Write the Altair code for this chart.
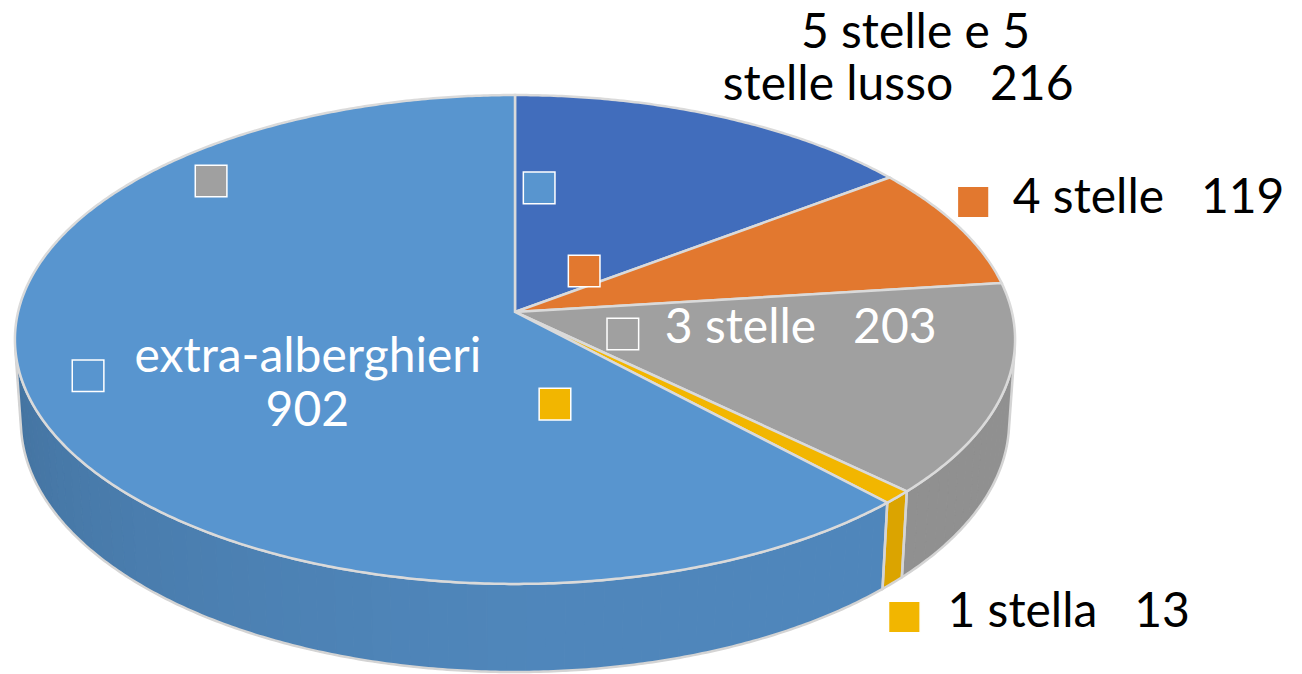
import math
import altair as alt
import pandas as pd

# ---- data ----
categories = ["5 stelle e 5 stelle lusso", "4 stelle", "3 stelle", "1 stella", "extra-alberghieri"]
values = [216, 119, 203, 13, 902]
top_colors = ["#416DBC", "#E2782F", "#A0A0A0", "#F2B600", "#5895CF"]

NB = "\u00a0"
# label text (category index, line text)
label_texts = [
    (0, "5 stelle e 5"),
    (0, f"stelle lusso{NB*3}216"),
    (1, f"4 stelle{NB*3}119"),
    (2, f"3 stelle{NB*3}203"),
    (3, f"1 stella{NB*3}13"),
    (4, "extra-alberghieri"),
    (4, "902"),
]
# label layout on the pie plane: (angle deg clockwise from top, radius, align, colour)
label_layout = [
    (36.4, 1.548, "center", "black"),
    (41.3, 1.296, "center", "black"),
    (67.7, 1.135, "left", "black"),
    (113.0, 0.323, "left", "white"),
    (146.3, 1.368, "left", "black"),
    (239.2, 0.472, "center", "white"),
    (221.5, 0.599, "center", "white"),
]
# legend-key squares drawn by the original chart: (colour category, angle, radius)
key_squares = [
    (2, 311.6, 0.871),
    (4, 5.4, 0.548),
    (1, 39.3, 0.224),
    (2, 112.8, 0.233),
    (3, 168.1, 0.374),
    (4, 252.9, 0.873),
    (1, 63.7, 1.084),
    (3, 148.2, 1.302),
]

# ---- 3D perspective pie geometry ----
CX, CY = 515.0, 312.0
K, C, S, D, H = 3866.0, 0.4857, 0.874, 7.78, 0.19


def project(a_deg, r=1.0, z=0.0):
    a = math.radians(a_deg)
    X, Y = r * math.sin(a), r * math.cos(a)
    depth = D + Y * S - z * C
    u = K * X / depth
    v = K * (Y * C + z * S) / depth
    return CX + u, CY - v


def shade(hex_color, a_deg):
    f = 0.905 - 0.13 * min(1.0, max(0.0, (a_deg - 175) / 85.0)) ** 1.3
    r, g, b = (int(hex_color[i:i + 2], 16) for i in (1, 3, 5))
    return "#%02x%02x%02x" % (int(r * f), int(g * f), int(b * f))


total = sum(values)
bounds = []
acc = 0
for v in values:
    a1 = acc / total * 360
    acc += v
    a2 = acc / total * 360
    bounds.append((a1, a2))

vis_lo = math.degrees(math.acos(-1.0 / (D * S)))
vis_hi = 360 - vis_lo


def arc(a1, a2, z=0.0, step=0.5):
    n = max(2, int(abs(a2 - a1) / step) + 1)
    return [project(a1 + (a2 - a1) * i / (n - 1), 1.0, z) for i in range(n)]


rows_top, rows_strip, rows_outline = [], [], []
for i, (a1, a2) in enumerate(bounds):
    pts = [(CX, CY)] + arc(a1, a2)
    for j, (x, y) in enumerate(pts):
        rows_top.append(dict(poly=f"t{i}", order=j, x=x, y=y, fill=top_colors[i]))
    s1, s2 = max(a1, vis_lo), min(a2, vis_hi)
    if s2 > s1:
        pts = arc(s1, s2) + arc(s2, s1, -H)
        for j, (x, y) in enumerate(pts):
            rows_outline.append(dict(poly=f"o{i}", order=j, x=x, y=y))
        nstrip = max(1, int((s2 - s1) / 2.0))
        for k in range(nstrip):
            b1 = s1 + (s2 - s1) * k / nstrip
            b2 = s1 + (s2 - s1) * (k + 1) / nstrip
            col = shade(top_colors[i], (b1 + b2) / 2)
            spts = arc(b1, b2, 0, 0.5) + arc(b2, b1, -H, 0.5)
            for j, (x, y) in enumerate(spts):
                rows_strip.append(dict(poly=f"s{i}_{k}", order=j, x=x, y=y, fill=col))

top_df = pd.DataFrame(rows_top)
strip_df = pd.DataFrame(rows_strip)
outline_df = pd.DataFrame(rows_outline)

lab_rows = []
for (ci, txt), (ang, rad, al, col) in zip(label_texts, label_layout):
    x, y = project(ang, rad)
    lab_rows.append(dict(text=txt, x=x, y=y, align=al, tcolor=col))
lab_df = pd.DataFrame(lab_rows)

sq_rows = []
for ci, ang, rad in key_squares:
    x, y = project(ang, rad)
    sq_rows.append(dict(x=x, y=y, fill=top_colors[ci]))
sq_df = pd.DataFrame(sq_rows)

W, HGT = 1302, 674
xs = alt.Scale(domain=[0, W], range=[0, W], nice=False, zero=False)
ys = alt.Scale(domain=[0, HGT], range=[0, HGT], nice=False, zero=False)
X = alt.X("x:Q", scale=xs, axis=None)
Y = alt.Y("y:Q", scale=ys, axis=None)

strips = alt.Chart(strip_df).mark_line(
    filled=True, interpolate="linear-closed", strokeWidth=1
).encode(x=X, y=Y, order="order:Q", detail="poly:N",
         color=alt.Color("fill:N", scale=None), stroke=alt.Stroke("fill:N", scale=None))

outlines = alt.Chart(outline_df).mark_line(
    interpolate="linear-closed", stroke="#D4D4D4", strokeWidth=2.5
).encode(x=X, y=Y, order="order:Q", detail="poly:N")

tops = alt.Chart(top_df).mark_line(
    filled=True, interpolate="linear-closed", stroke="#DADADA", strokeWidth=2.5
).encode(x=X, y=Y, order="order:Q", detail="poly:N", color=alt.Color("fill:N", scale=None))

squares = alt.Chart(sq_df).mark_square(
    size=1000, stroke="white", strokeWidth=1.5, opacity=1, filled=True
).encode(x=X, y=Y, color=alt.Color("fill:N", scale=None))

texts_left = alt.Chart(lab_df).transform_filter(alt.datum.align == "left").mark_text(
    font="Lato", fontSize=48, align="left", baseline="alphabetic"
).encode(x=X, y=Y, text="text:N", color=alt.Color("tcolor:N", scale=None))

texts_center = alt.Chart(lab_df).transform_filter(alt.datum.align == "center").mark_text(
    font="Lato", fontSize=48, align="center", baseline="alphabetic"
).encode(x=X, y=Y, text="text:N", color=alt.Color("tcolor:N", scale=None))

chart = alt.layer(strips, outlines, tops, squares, texts_left, texts_center).properties(
    width=W, height=HGT, padding=0, autosize=alt.AutoSizeParams(type="none"), background="white"
).configure_view(stroke=None)

chart.save("out.html", embed_options={"renderer": "svg", "actions": False})
